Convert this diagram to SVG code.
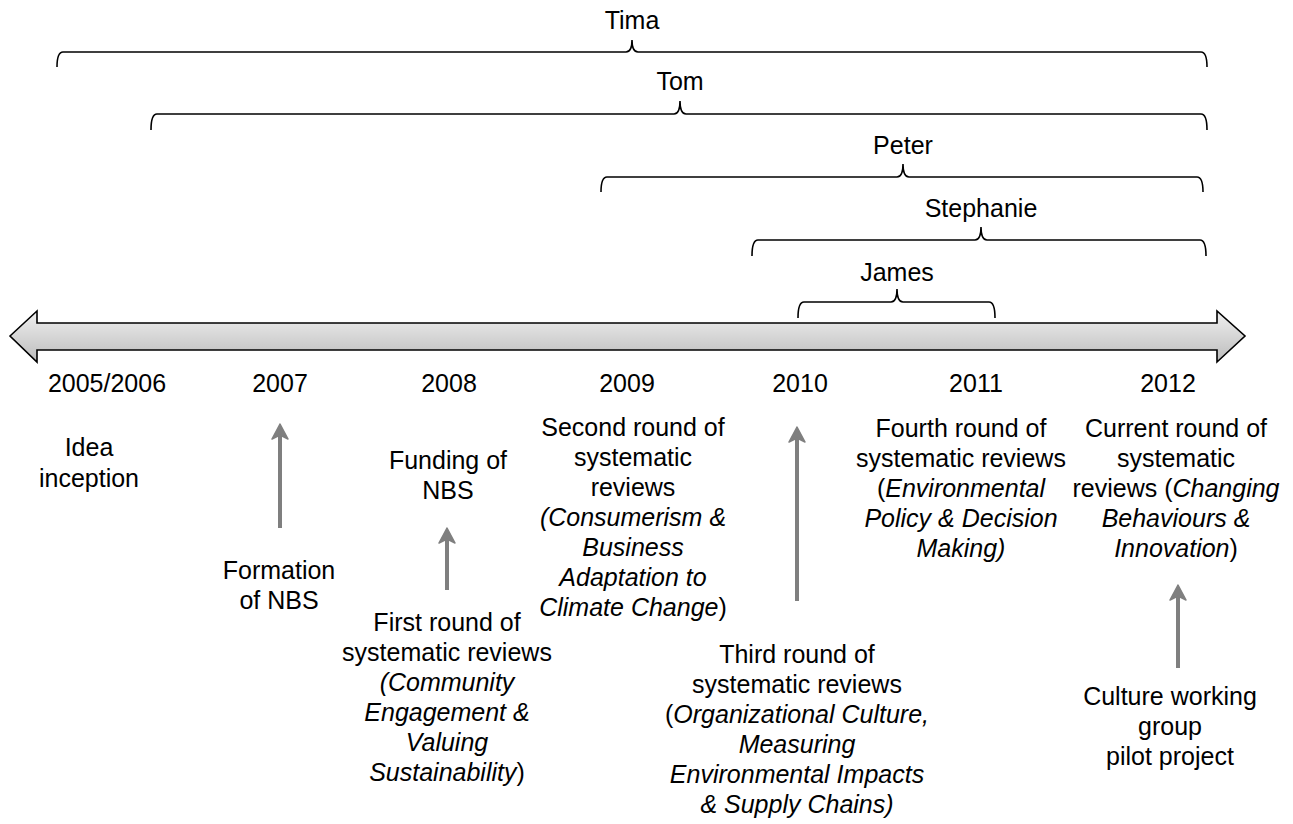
<svg xmlns="http://www.w3.org/2000/svg" width="1293" height="824" viewBox="0 0 1293 824">
<style>
text{font-family:"Liberation Sans",Arial,Helvetica,sans-serif;font-size:25px;fill:#000;text-anchor:middle}
.i{font-style:italic}
.brace{fill:none;stroke:#000;stroke-width:1.6}
.conn{stroke:#7f7f7f;stroke-width:4;fill:none}
</style>
<defs>
<linearGradient id="g" x1="0" y1="0" x2="0" y2="1">
<stop offset="0" stop-color="#f0f0f0"/>
<stop offset="1" stop-color="#bcbcbc"/>
</linearGradient>
<marker id="ah" markerWidth="22" markerHeight="22" viewBox="-11 -11 22 22" refX="0" refY="0" orient="auto" markerUnits="userSpaceOnUse">
<path d="M8,0 L-7,-8 L-3,0 L-7,8 Z" fill="#7f7f7f" stroke="#7f7f7f" stroke-width="1.5" stroke-linejoin="round"/>
</marker>
</defs>
<rect width="1293" height="824" fill="#fff"/>

<g id="timeline">
<path d="M10,336 L37,311 L37,323 L1217,323 L1217,311 L1245,336 L1217,362 L1217,350 L37,350 L37,362 Z" fill="url(#g)" stroke="#000" stroke-width="1.6" stroke-linejoin="miter"/>
</g>

<g id="people">
<g id="tima">
<path class="brace" d="M57,67 Q57,52 63,52 L626,52 Q632,52 632,40 Q632,52 638,52 L1201,52 Q1207,52 1207,67"/>
<text x="632" y="29">Tima</text>
</g>
<g id="tom">
<path class="brace" d="M151,130 Q151,114 157,114 L674,114 Q680,114 680,101 Q680,114 686,114 L1201,114 Q1207,114 1207,130"/>
<text x="680" y="90">Tom</text>
</g>
<g id="peter">
<path class="brace" d="M601,192 Q601,177 607,177 L897,177 Q903,177 903,164 Q903,177 909,177 L1197,177 Q1203,177 1203,192"/>
<text x="903" y="154">Peter</text>
</g>
<g id="stephanie">
<path class="brace" d="M752,256 Q752,240 758,240 L975,240 Q981,240 981,227 Q981,240 987,240 L1200,240 Q1206,240 1206,256"/>
<text x="981" y="217">Stephanie</text>
</g>
<g id="james">
<path class="brace" d="M798,318 Q798,302 804,302 L891,302 Q897,302 897,289 Q897,302 903,302 L989,302 Q995,302 995,318"/>
<text x="897" y="281">James</text>
</g>
</g>

<g id="years">
<text x="107" y="392">2005/2006</text>
<text x="280" y="392">2007</text>
<text x="449" y="392">2008</text>
<text x="627" y="392">2009</text>
<text x="800" y="392">2010</text>
<text x="976" y="392">2011</text>
<text x="1168" y="392">2012</text>
</g>

<g id="idea">
<text x="89" y="456">Idea</text>
<text x="89" y="487">inception</text>
</g>
<g id="formation">
<text x="279" y="579">Formation</text>
<text x="279" y="609">of NBS</text>
</g>
<g id="funding">
<text x="448" y="469">Funding of</text>
<text x="448" y="499">NBS</text>
</g>
<g id="first-round">
<text x="447" y="631">First round of</text>
<text x="447" y="661">systematic reviews</text>
<text x="447" y="691" class="i">(Community</text>
<text x="447" y="721" class="i">Engagement &amp;</text>
<text x="447" y="751" class="i">Valuing</text>
<text x="447" y="781"><tspan class="i">Sustainability</tspan>)</text>
</g>
<g id="second-round">
<text x="633" y="436">Second round of</text>
<text x="633" y="466">systematic</text>
<text x="633" y="496">reviews</text>
<text x="633" y="526" class="i">(Consumerism &amp;</text>
<text x="633" y="556" class="i">Business</text>
<text x="633" y="586" class="i">Adaptation to</text>
<text x="633" y="616"><tspan class="i">Climate Change</tspan>)</text>
</g>
<g id="third-round">
<text x="797" y="663">Third round of</text>
<text x="797" y="693">systematic reviews</text>
<text x="797" y="723">(<tspan class="i">Organizational Culture,</tspan></text>
<text x="797" y="753" class="i">Measuring</text>
<text x="797" y="783" class="i">Environmental Impacts</text>
<text x="797" y="813" class="i">&amp; Supply Chains)</text>
</g>
<g id="fourth-round">
<text x="961" y="437">Fourth round of</text>
<text x="961" y="467">systematic reviews</text>
<text x="961" y="497">(<tspan class="i">Environmental</tspan></text>
<text x="961" y="527" class="i">Policy &amp; Decision</text>
<text x="961" y="557" class="i">Making)</text>
</g>
<g id="current-round">
<text x="1176" y="437">Current round of</text>
<text x="1176" y="467">systematic</text>
<text x="1176" y="497">reviews (<tspan class="i">Changing</tspan></text>
<text x="1176" y="527" class="i">Behaviours &amp;</text>
<text x="1176" y="557"><tspan class="i">Innovation</tspan>)</text>
</g>
<g id="culture-group">
<text x="1170" y="705">Culture working</text>
<text x="1170" y="735">group</text>
<text x="1170" y="765">pilot project</text>
</g>

<g id="connectors">
<line class="conn" x1="280" y1="528" x2="280" y2="432" marker-end="url(#ah)"/>
<line class="conn" x1="447" y1="590" x2="447" y2="536" marker-end="url(#ah)"/>
<line class="conn" x1="797" y1="601" x2="797" y2="435" marker-end="url(#ah)"/>
<line class="conn" x1="1178" y1="668" x2="1178" y2="593" marker-end="url(#ah)"/>
</g>
</svg>
